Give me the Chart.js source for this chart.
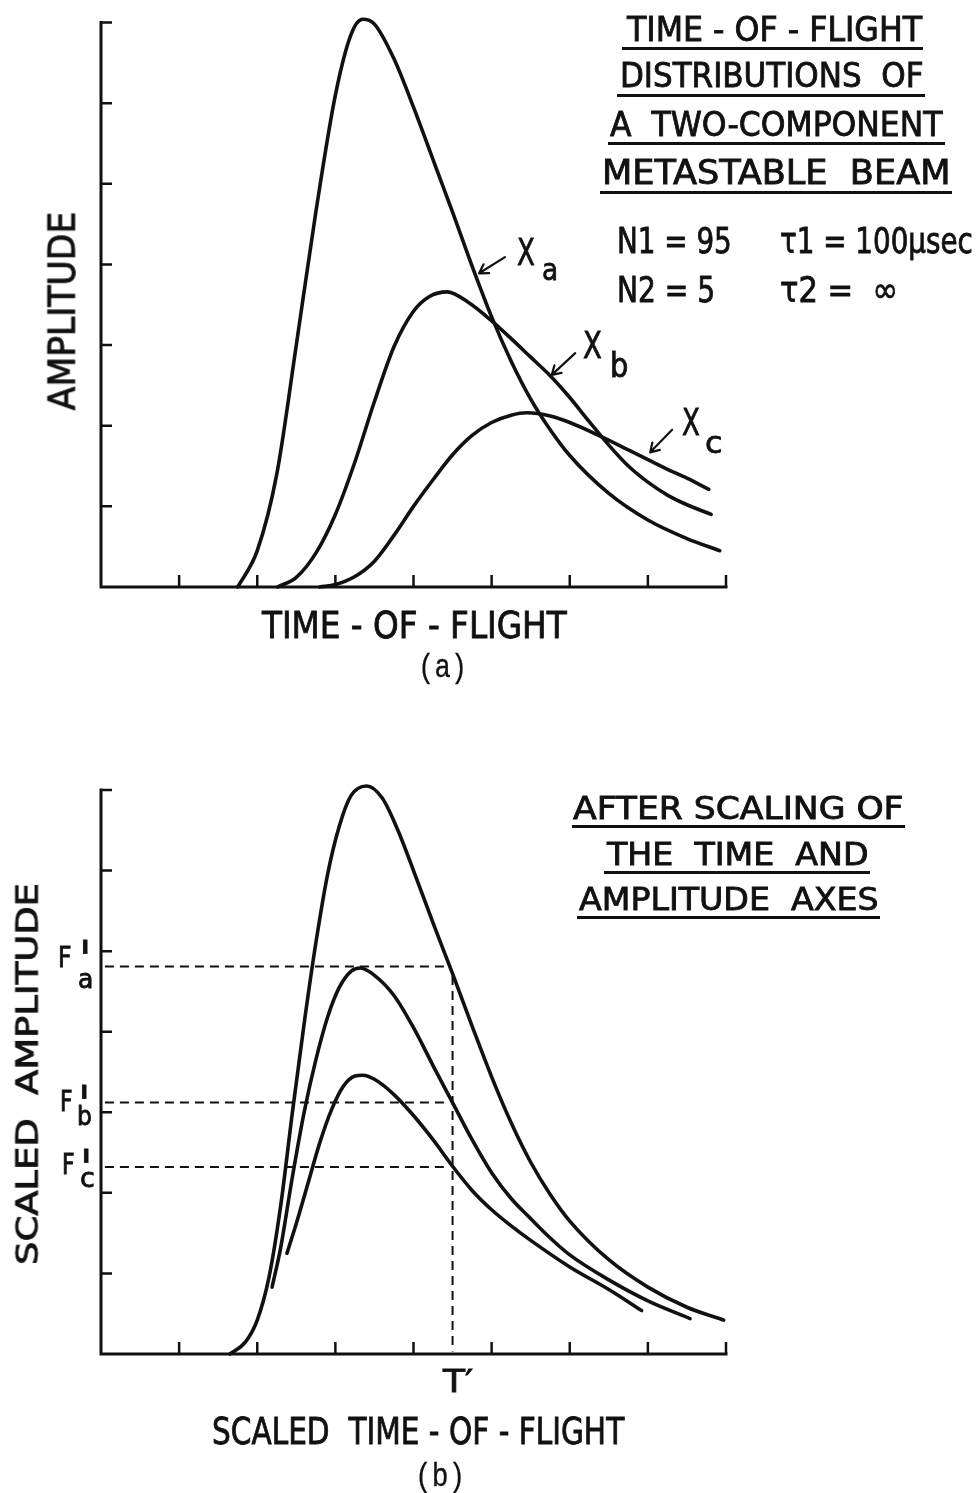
<!DOCTYPE html>
<html>
<head>
<meta charset="utf-8">
<script src="https://cdn.jsdelivr.net/npm/chart.js@4/dist/chart.umd.min.js"></script>
<style>
html, body { margin: 0; padding: 0; background: #fff; }
#page { position: relative; width: 980px; height: 1493px; overflow: hidden; background: #fff; }
canvas { position: absolute; left: 0; }
.lbl { position: absolute; white-space: pre; font-family: 'DejaVu Sans Condensed', 'DejaVu Sans', sans-serif;
       color: #111; line-height: 1; transform-origin: 0 0; -webkit-text-stroke: 0.8px #111; }
.mono { font-family: 'Liberation Mono', 'DejaVu Sans Mono', monospace; -webkit-text-stroke: 0.3px #111; }
.uline { position: absolute; height: 3px; background: #111; }
</style>
</head>
<body>
<div id="page">
  <canvas id="chartA" width="980" height="700" style="top:0"></canvas>
  <canvas id="chartB" width="980" height="793" style="top:700px"></canvas>
</div>
<script>
// ---- panel (a): time-of-flight distributions (axis units, 8 x 7) ----
const xaTime = [1.75, 2.00, 2.25, 2.50, 2.75, 3.00, 3.20, 3.35, 3.50, 3.75, 4.00, 4.25, 4.50, 4.75, 5.00, 5.25, 5.50, 5.75, 6.00, 6.50, 7.00, 7.50, 7.92];
const xaAmp  = [0.00, 0.45, 1.40, 3.00, 4.65, 6.10, 6.85, 7.04, 6.98, 6.55, 5.95, 5.30, 4.65, 3.98, 3.35, 2.80, 2.33, 1.95, 1.63, 1.16, 0.83, 0.60, 0.45];

const xbTime = [2.26, 2.50, 2.75, 3.00, 3.25, 3.50, 3.75, 4.00, 4.20, 4.43, 4.70, 5.00, 5.25, 5.50, 5.75, 6.00, 6.25, 6.50, 6.75, 7.00, 7.25, 7.50, 7.81];
const xbAmp  = [0.00, 0.12, 0.42, 0.90, 1.55, 2.30, 2.98, 3.42, 3.60, 3.66, 3.53, 3.30, 3.08, 2.85, 2.62, 2.35, 2.05, 1.76, 1.50, 1.30, 1.14, 1.02, 0.90];

const xcTime = [2.80, 3.00, 3.25, 3.50, 3.75, 4.00, 4.25, 4.50, 4.75, 5.00, 5.25, 5.45, 5.75, 6.00, 6.35, 6.75, 7.00, 7.25, 7.50, 7.78];
const xcAmp  = [0.00, 0.03, 0.13, 0.32, 0.64, 1.00, 1.33, 1.64, 1.88, 2.04, 2.13, 2.16, 2.12, 2.04, 1.89, 1.70, 1.58, 1.46, 1.35, 1.21];

// ---- panel (b): after scaling ----
const faTime = [1.65, 1.85, 2.00, 2.15, 2.30, 2.45, 2.60, 2.75, 2.90, 3.05, 3.20, 3.40, 3.60, 3.80, 4.00, 4.25, 4.50, 4.75, 5.00, 5.25, 5.50, 5.75, 6.00, 6.50, 7.00, 7.50, 7.97];
const faAmp  = [0.00, 0.15, 0.42, 0.95, 1.84, 3.00, 4.10, 5.10, 5.95, 6.55, 6.93, 7.05, 6.90, 6.50, 6.00, 5.35, 4.72, 4.07, 3.44, 2.87, 2.38, 1.98, 1.65, 1.17, 0.83, 0.58, 0.42];

const fbTime = [2.19, 2.30, 2.45, 2.60, 2.75, 2.90, 3.05, 3.20, 3.32, 3.50, 3.75, 4.00, 4.25, 4.50, 4.75, 5.00, 5.25, 5.50, 5.75, 6.00, 6.50, 7.00, 7.54];
const fbAmp  = [0.83, 1.32, 2.20, 3.00, 3.65, 4.18, 4.55, 4.75, 4.79, 4.70, 4.45, 4.05, 3.58, 3.12, 2.66, 2.25, 1.93, 1.68, 1.44, 1.23, 0.92, 0.66, 0.44];

const fcTime = [2.38, 2.50, 2.65, 2.80, 2.95, 3.10, 3.25, 3.35, 3.50, 3.75, 4.00, 4.25, 4.50, 4.75, 5.00, 5.25, 5.50, 6.00, 6.50, 6.92];
const fcAmp  = [1.25, 1.62, 2.12, 2.62, 3.03, 3.32, 3.45, 3.46, 3.41, 3.22, 2.96, 2.66, 2.33, 2.03, 1.79, 1.59, 1.41, 1.08, 0.80, 0.54];

const primeLevels = [4.81, 3.12, 2.32];   // F'a, F'b, F'c
const tPrime = 4.5;
const xTicks = [1, 2, 3, 4, 5, 6, 7, 8];
const yTicks = [1, 2, 3, 4, 5, 6, 7];

// label arrows in panel (a): [tailX, tailY, headX, headY] in axis units
const arrowsA = [[5.17, 4.09, 4.84, 3.89], [6.07, 2.90, 5.77, 2.63], [7.31, 1.95, 7.03, 1.67]];

const INK = '#111';

function curve(xs, ys) {
  return {
    data: xs.map((t, i) => ({ x: t, y: ys[i] })),
    borderColor: INK,
    borderWidth: 3.6,
    cubicInterpolationMode: 'monotone',
    borderCapStyle: 'round',
    borderJoinStyle: 'round',
    pointRadius: 0,
    fill: false,
    clip: false
  };
}

function dashed(xs, ys) {
  return {
    data: xs.map((t, i) => ({ x: t, y: ys[i] })),
    borderColor: INK,
    borderWidth: 2,
    borderDash: [9, 6],
    tension: 0,
    pointRadius: 0,
    fill: false,
    clip: false
  };
}

// axes drawn like the original: L-shaped frame with inward ticks
const frameAxes = {
  id: 'frameAxes',
  afterDatasetsDraw(chart, args, opts) {
    const { ctx, scales: { x, y } } = chart;
    const x0 = x.getPixelForValue(0), x1 = x.getPixelForValue(8);
    const y0 = y.getPixelForValue(0), y1 = y.getPixelForValue(7);
    ctx.save();
    ctx.strokeStyle = INK;
    ctx.lineWidth = 3;
    ctx.lineCap = 'square';
    ctx.beginPath();
    ctx.moveTo(x0, y1);
    ctx.lineTo(x0, y0);
    ctx.lineTo(x1, y0);
    ctx.stroke();

    ctx.lineWidth = 2.5;
    ctx.lineCap = 'butt';
    ctx.beginPath();
    xTicks.forEach(v => {
      const px = x.getPixelForValue(v);
      ctx.moveTo(px, y0);
      ctx.lineTo(px, y0 - 12);
    });
    yTicks.forEach(v => {
      const py = y.getPixelForValue(v);
      ctx.moveTo(x0, py);
      ctx.lineTo(x0 + 11, py);
    });
    ctx.stroke();

    // small arrows pointing at the curves
    ctx.lineWidth = 2.2;
    ctx.lineCap = 'round';
    (opts.arrows || []).forEach(a => {
      const tx = x.getPixelForValue(a[0]), ty = y.getPixelForValue(a[1]);
      const hx = x.getPixelForValue(a[2]), hy = y.getPixelForValue(a[3]);
      const ang = Math.atan2(hy - ty, hx - tx);
      ctx.beginPath();
      ctx.moveTo(tx, ty);
      ctx.lineTo(hx, hy);
      [-0.55, 0.55].forEach(d => {
        ctx.moveTo(hx, hy);
        ctx.lineTo(hx - 10 * Math.cos(ang + d), hy - 10 * Math.sin(ang + d));
      });
      ctx.stroke();
    });
    ctx.restore();
  }
};

function makeChart(id, datasets, padTop, padBottom, arrows) {
  return new Chart(document.getElementById(id), {
    type: 'line',
    data: { datasets: datasets },
    options: {
      responsive: false,
      animation: false,
      layout: { padding: { left: 101, right: 254, top: padTop, bottom: padBottom } },
      plugins: {
        legend: { display: false },
        tooltip: { enabled: false },
        frameAxes: { arrows: arrows }
      },
      scales: {
        x: { type: 'linear', min: 0, max: 8, display: false },
        y: { type: 'linear', min: 0, max: 7, display: false }
      }
    },
    plugins: [frameAxes]
  });
}

makeChart('chartA', [
  curve(xaTime, xaAmp),
  curve(xbTime, xbAmp),
  curve(xcTime, xcAmp)
], 22.5, 113, arrowsA);

const dashSets = primeLevels.map(v => dashed([0.05, tPrime - 0.05], [v, v]));
dashSets.push(dashed([tPrime, tPrime], [primeLevels[0] - 0.12, 0.03]));

makeChart('chartB', [
  curve(faTime, faAmp),
  curve(fbTime, fbAmp),
  curve(fcTime, fcAmp)
].concat(dashSets), 90, 139, []);

// ---- text ----
const page = document.getElementById('page');

function addLabel(text, left, baseline, size, width, mono) {
  const el = document.createElement('div');
  el.className = 'lbl' + (mono ? ' mono' : '');
  el.textContent = text;
  el.style.fontSize = size + 'px';
  const base = mono ? 0.767 : 0.846;
  el.style.left = left + 'px';
  el.style.top = (baseline - base * size) + 'px';
  page.appendChild(el);
  if (width) el.style.transform = 'scaleX(' + (width / el.offsetWidth) + ')';
  return el;
}

function addVertical(text, cx, cy, size, length) {
  const el = document.createElement('div');
  el.className = 'lbl';
  el.textContent = text;
  el.style.fontSize = size + 'px';
  page.appendChild(el);
  const w = el.offsetWidth;
  const mid = 0.4815 * size;
  el.style.left = (cx - w / 2) + 'px';
  el.style.top = (cy - mid) + 'px';
  el.style.transformOrigin = (w / 2) + 'px ' + mid + 'px';
  el.style.transform = 'rotate(-90deg) scaleX(' + (length / w) + ')';
}

function underline(left, top, width) {
  const el = document.createElement('div');
  el.className = 'uline';
  el.style.left = left + 'px';
  el.style.top = top + 'px';
  el.style.width = width + 'px';
  page.appendChild(el);
}

// panel (a)
addVertical('AMPLITUDE', 61, 311, 38, 198);
addLabel('TIME - OF - FLIGHT', 262, 638, 38, 305);
addLabel('(a)', 418, 677, 34, 49, true);

addLabel('TIME - OF - FLIGHT', 627, 41, 34, 295);
underline(622, 47, 301);
addLabel('DISTRIBUTIONS  OF', 620, 87, 34, 303);
underline(617, 94, 308);
addLabel('A  TWO-COMPONENT', 610, 136, 34, 332);
underline(608, 142, 337);
addLabel('METASTABLE  BEAM', 602, 184, 34, 348);
underline(600, 191, 352);

addLabel('N1 = 95', 617, 253, 36, 115);
addLabel('τ1 = 100μsec', 780, 253, 36, 193);
addLabel('N2 = 5', 617, 302, 36, 98);
addLabel('τ2 =  ∞', 780, 302, 36, 118);

addLabel('X', 517, 265, 37, 18);
addLabel('a', 542, 280, 31, 16);
addLabel('X', 583, 358, 37, 19);
addLabel('b', 610, 377, 34, 18);
addLabel('X', 682, 435, 37, 18);
addLabel('c', 705, 453, 31, 17);

// panel (b)
addLabel('AFTER SCALING OF', 573, 819, 32, 330);
underline(572, 825, 333);
addLabel('THE  TIME  AND', 607, 865, 32, 261);
underline(604, 871, 266);
addLabel('AMPLITUDE  AXES', 579, 910, 32, 300);
underline(577, 916, 303);

addVertical('SCALED  AMPLITUDE', 26, 1074, 31, 382);

addLabel('F', 58, 968, 28, 14);
addLabel('a', 78, 988, 26, 15);
addLabel("'", 79, 976, 50, null);
addLabel('F', 60, 1112, 28, 13);
addLabel('b', 77, 1125, 26, 15);
addLabel("'", 78, 1121, 50, null);
addLabel('F', 62, 1175, 28, 13);
addLabel('c', 80, 1187, 26, 15);
addLabel("'", 80, 1185, 50, null);

addLabel("T′", 443, 1392, 32, 30);
addLabel('SCALED  TIME - OF - FLIGHT', 212, 1444, 38, 412);
addLabel('(b)', 415, 1486, 34, 50, true);
</script>
</body>
</html>
